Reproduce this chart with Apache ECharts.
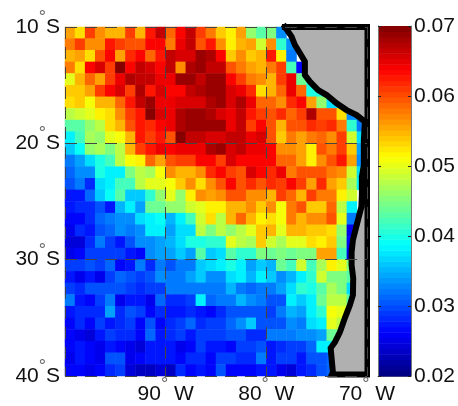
<!DOCTYPE html>
<html>
<head>
<meta charset="utf-8">
<style>
  html, body { margin: 0; padding: 0; background: #fff; }
  #chart { width: 458px; height: 406px; }
</style>
<script src="https://cdn.jsdelivr.net/npm/echarts@6/dist/echarts.min.js"></script>
</head>
<body>
<div id="chart"></div>
<script>
// cell centres, 1 degree cells from 100W to 70W
const lonCells = [-99.5,-98.5,-97.5,-96.5,-95.5,-94.5,-93.5,-92.5,-91.5,-90.5,-89.5,-88.5,-87.5,-86.5,-85.5,-84.5,-83.5,-82.5,-81.5,-80.5,-79.5,-78.5,-77.5,-76.5,-75.5,-74.5,-73.5,-72.5,-71.5,-70.5];
const latCells = [-10.5,-11.5,-12.5,-13.5,-14.5,-15.5,-16.5,-17.5,-18.5,-19.5,-20.5,-21.5,-22.5,-23.5,-24.5,-25.5,-26.5,-27.5,-28.5,-29.5,-30.5,-31.5,-32.5,-33.5,-34.5,-35.5,-36.5,-37.5,-38.5,-39.5];

// one row per latitude, west to east; a row stops where the land starts
const row00 = [.056,.053,.061,.057,.055,.055,.061,.055,.063,.067,.059,.064,.067,.061,.058,.054,.052,.056,.046,.043,.045,.033];
const row01 = [.058,.061,.057,.057,.063,.061,.060,.060,.064,.064,.058,.065,.067,.060,.063,.057,.052,.055,.056,.049,.057,.041,.033];
const row02 = [.055,.056,.053,.060,.064,.056,.062,.064,.059,.063,.067,.066,.066,.069,.068,.064,.054,.057,.054,.055,.063,.052,.032];
const row03 = [.058,.053,.064,.066,.061,.070,.064,.067,.066,.064,.067,.057,.068,.069,.067,.067,.060,.058,.056,.055,.058,.061,.042,.026];
const row04 = [.050,.055,.059,.056,.061,.065,.068,.067,.067,.065,.065,.069,.069,.067,.069,.069,.064,.061,.058,.057,.055,.061,.065,.044,.040];
const row05 = [.054,.054,.056,.061,.064,.066,.061,.068,.063,.066,.064,.064,.067,.068,.069,.069,.066,.065,.062,.053,.055,.059,.065,.059,.040,.040];
const row06 = [.053,.054,.051,.055,.055,.059,.063,.067,.069,.065,.065,.066,.066,.066,.068,.069,.066,.068,.065,.059,.059,.057,.062,.064,.056,.046,.037,.037];
const row07 = [.048,.049,.050,.052,.053,.057,.061,.063,.070,.066,.065,.068,.069,.069,.068,.066,.065,.067,.063,.061,.060,.062,.059,.061,.068,.060,.060,.053,.033,.033];
const row08 = [.043,.043,.046,.048,.053,.055,.060,.063,.062,.064,.065,.068,.069,.069,.069,.069,.065,.067,.061,.064,.060,.055,.060,.060,.062,.061,.062,.058,.041,.032];
const row09 = [.038,.042,.047,.046,.050,.051,.055,.063,.061,.063,.060,.070,.067,.067,.066,.066,.067,.067,.065,.066,.060,.054,.058,.056,.058,.059,.057,.061,.049,.037];
const row10 = [.036,.039,.046,.047,.045,.048,.055,.061,.063,.065,.064,.065,.065,.065,.068,.069,.066,.067,.065,.065,.064,.057,.057,.056,.052,.060,.058,.061,.054,.034];
const row11 = [.032,.034,.037,.040,.042,.048,.051,.052,.059,.056,.060,.061,.061,.064,.064,.061,.066,.064,.064,.064,.064,.059,.059,.056,.052,.057,.060,.063,.056,.033];
const row12 = [.031,.033,.033,.040,.038,.038,.045,.048,.047,.051,.057,.055,.055,.057,.062,.064,.061,.060,.066,.064,.062,.065,.058,.060,.060,.060,.058,.057,.049,.037];
const row13 = [.030,.032,.028,.037,.038,.042,.042,.048,.050,.050,.051,.054,.057,.053,.057,.060,.064,.060,.062,.060,.062,.061,.064,.061,.056,.062,.056,.054,.047,.038];
const row14 = [.027,.027,.031,.036,.039,.043,.036,.036,.041,.046,.050,.046,.052,.057,.056,.057,.060,.060,.057,.057,.055,.061,.059,.055,.061,.058,.058,.052,.049];
const row15 = [.027,.028,.028,.030,.027,.035,.038,.034,.044,.044,.046,.046,.049,.050,.052,.052,.055,.055,.057,.054,.057,.051,.058,.060,.054,.054,.059,.048,.038];
const row16 = [.026,.026,.028,.031,.032,.033,.033,.037,.038,.039,.035,.038,.042,.049,.053,.048,.055,.059,.055,.052,.053,.051,.058,.055,.057,.057,.060,.050,.032];
const row17 = [.025,.028,.027,.030,.031,.033,.032,.033,.038,.038,.034,.037,.037,.048,.045,.048,.046,.048,.050,.054,.055,.050,.055,.055,.054,.054,.053,.046,.025];
const row18 = [.024,.024,.028,.032,.029,.027,.030,.033,.033,.034,.035,.037,.040,.040,.041,.041,.050,.048,.047,.054,.049,.047,.050,.050,.053,.052,.054,.045,.026];
const row19 = [.025,.026,.029,.029,.029,.029,.027,.026,.033,.034,.034,.036,.034,.043,.036,.037,.043,.041,.041,.045,.044,.045,.044,.045,.045,.056,.056,.042,.025];
const row20 = [.029,.029,.030,.029,.031,.026,.027,.032,.028,.032,.030,.032,.032,.036,.037,.038,.040,.038,.034,.036,.035,.044,.042,.049,.042,.047,.052,.050,.045];
const row21 = [.027,.025,.027,.025,.029,.031,.030,.029,.030,.033,.032,.032,.034,.036,.033,.033,.037,.038,.035,.038,.036,.033,.035,.038,.041,.049,.045,.045,.043];
const row22 = [.029,.028,.030,.030,.030,.030,.029,.028,.029,.029,.032,.032,.032,.032,.032,.032,.035,.032,.031,.032,.032,.034,.037,.041,.040,.043,.047,.045,.037];
const row23 = [.032,.027,.026,.029,.032,.025,.027,.027,.025,.031,.028,.028,.029,.038,.031,.032,.032,.035,.033,.032,.030,.030,.038,.036,.038,.044,.048,.048,.043];
const row24 = [.027,.028,.028,.028,.034,.028,.030,.029,.026,.028,.027,.027,.028,.027,.026,.028,.030,.030,.030,.030,.029,.032,.035,.034,.038,.041,.051,.050];
const row25 = [.026,.028,.026,.029,.027,.028,.029,.026,.030,.026,.028,.029,.031,.028,.029,.029,.031,.033,.036,.030,.030,.030,.033,.032,.037,.038,.050,.048];
const row26 = [.026,.025,.024,.027,.029,.028,.028,.026,.031,.027,.028,.029,.027,.029,.029,.029,.030,.030,.028,.028,.032,.032,.032,.033,.033,.034,.044,.045];
const row27 = [.026,.027,.026,.025,.027,.026,.025,.024,.027,.027,.027,.025,.026,.029,.027,.027,.026,.029,.029,.030,.027,.028,.029,.029,.031,.038,.038];
const row28 = [.025,.027,.026,.025,.030,.030,.025,.026,.027,.027,.027,.026,.028,.028,.026,.029,.029,.028,.028,.032,.027,.029,.029,.027,.030,.030,.031];
const row29 = [.026,.026,.025,.026,.028,.029,.024,.023,.023,.024,.023,.028,.026,.027,.026,.030,.026,.026,.026,.027,.027,.025,.024,.027,.028,.030,.031];
const rows = [row00,row01,row02,row03,row04,row05,row06,row07,row08,row09,row10,row11,row12,row13,row14,row15,row16,row17,row18,row19,row20,row21,row22,row23,row24,row25,row26,row27,row28,row29];

// coast, north to south
const coastLon = [-78.15,-77.49,-77.16,-76.66,-76.17,-76.17,-75.67,-74.85,-74.01,-73.02,-72.03,-71.03,-70.21,-70.31,-70.31,-70.51,-70.51,-70.56,-70.9,-71.4,-71.53,-71.53,-71.37,-71.4,-71.7,-72.2,-72.69,-73.19,-73.61,-73.52,-73.39,-73.49];
const coastLat = [-10,-10.83,-11.55,-12.26,-12.98,-14.13,-14.7,-15.42,-15.85,-16.56,-17.14,-17.57,-18.14,-19.72,-21.87,-22.9,-24.45,-25.48,-26.6,-28.31,-29.35,-30.46,-31.58,-33.04,-33.9,-35.02,-36.23,-37.09,-37.6,-38.46,-39.66,-39.87];
const frameLon = [-69.95,-69.95];
const frameLat = [-39.87,-10];

const lonTicks = [-90, -80, -70];
const latTicks = [-10, -20, -30, -40];
const colorTicks = [0.02, 0.03, 0.04, 0.05, 0.06, 0.07];

const font = "Liberation Sans";
const ink = "#111";

// matlab style jet, 64 steps
const clamp01 = (v) => Math.max(0, Math.min(1, v));
const jetLevel = (i) => {
  const t = (i + 0.5) / 64;
  const ch = (c) => Math.round(clamp01(1.5 - Math.abs(4 * t - c)) * 255);
  return `rgb(${ch(3)},${ch(2)},${ch(1)})`;
};
const jetColors = Array.from({ length: 64 }, (_, i) => jetLevel(i));

const cells = [];
rows.forEach((row, r) => {
  row.forEach((v, c) => cells.push([c, r, v]));
});

const coast = coastLon.map((lon, i) => [lon, coastLat[i]]);
const frame = coast.concat(frameLon.map((lon, i) => [lon, frameLat[i]]), [coast[0]]);

// degree ring sits well above the digits, hence the bottom padding
const richLabel = {
  n: { fontFamily: font, fontSize: 21, color: ink },
  d: { fontFamily: font, fontSize: 18, color: "#666", padding: [0, 0, 18, 0] }
};

const chart = echarts.init(document.getElementById("chart"));

chart.setOption({
  animation: false,
  backgroundColor: "#fff",
  grid: [
    { left: 65, top: 27, width: 302, height: 349 },
    { left: 378, top: 26, width: 33, height: 350 }
  ],
  xAxis: [
    { type: "category", gridIndex: 0, data: lonCells, show: false },
    {
      type: "value",
      gridIndex: 0,
      position: "bottom",
      min: -100,
      max: -70,
      interval: 10,
      z: 10,
      axisLine: { show: false, onZero: false },
      axisTick: { show: false },
      axisLabel: {
        margin: 0,
        showMinLabel: false,
        hideOverlap: false,
        rich: richLabel,
        formatter: (v) => (lonTicks.includes(v) ? `{n|${-v}}{d|°}{n| W}` : "")
      },
      splitLine: {
        show: true,
        lineStyle: { color: "#444", width: 1, type: [12, 8] }
      }
    },
    {
      type: "value",
      gridIndex: 1,
      min: 0,
      max: 1,
      axisLine: { show: true, onZero: false, lineStyle: { color: "#777" } },
      axisTick: { show: false },
      axisLabel: { show: false },
      splitLine: { show: false }
    }
  ],
  yAxis: [
    { type: "category", gridIndex: 0, data: latCells, inverse: true, show: false },
    {
      type: "value",
      gridIndex: 0,
      position: "left",
      min: -40,
      max: -10,
      interval: 10,
      z: 10,
      axisLine: { show: false, onZero: false },
      axisTick: { show: false },
      axisLabel: {
        margin: 5,
        rich: richLabel,
        formatter: (v) => (latTicks.includes(v) ? `{n|${-v}}{d|°}{n|S}` : "")
      },
      splitLine: {
        show: true,
        lineStyle: { color: "#444", width: 1, type: [12, 8] }
      }
    },
    {
      type: "value",
      gridIndex: 1,
      position: "right",
      min: 0.02,
      max: 0.07,
      interval: 0.01,
      z: 10,
      axisLine: { show: true, onZero: false, lineStyle: { color: "#777" } },
      axisTick: { show: true, inside: true, length: 3, lineStyle: { color: "#222" } },
      axisLabel: {
        margin: 3,
        fontFamily: font,
        fontSize: 21,
        color: ink,
        formatter: (v) => colorTicks.find((t) => Math.abs(t - v) < 1e-6).toFixed(2)
      },
      splitLine: { show: false }
    },
    {
      type: "value",
      gridIndex: 1,
      position: "left",
      min: 0.02,
      max: 0.07,
      interval: 0.01,
      z: 10,
      axisLine: { show: true, onZero: false, lineStyle: { color: "#777" } },
      axisTick: { show: true, inside: true, length: 3, lineStyle: { color: "#222" } },
      axisLabel: { show: false },
      splitLine: { show: false }
    }
  ],
  visualMap: {
    show: false,
    seriesIndex: 0,
    dimension: 2,
    min: 0.02,
    max: 0.07,
    inRange: { color: jetColors }
  },
  series: [
    {
      type: "heatmap",
      xAxisIndex: 0,
      yAxisIndex: 0,
      data: cells,
      itemStyle: { borderWidth: 0 },
      z: 2
    },
    {
      // land
      type: "custom",
      xAxisIndex: 1,
      yAxisIndex: 1,
      clip: false,
      z: 3,
      data: [0],
      renderItem: (params, api) => ({
        type: "polygon",
        shape: { points: frame.map((p) => api.coord(p)) },
        style: { fill: "#b0b0b0" }
      })
    },
    {
      type: "line",
      xAxisIndex: 1,
      yAxisIndex: 1,
      data: frame,
      showSymbol: false,
      clip: false,
      silent: true,
      lineStyle: { color: "#000", width: 6, join: "miter", cap: "square" },
      z: 4
    },
    {
      // colorbar
      type: "custom",
      xAxisIndex: 2,
      yAxisIndex: 2,
      z: 2,
      data: jetColors.map((c, i) => i),
      renderItem: (params, api) => {
        const i = api.value(0);
        const lo = api.coord([0, 0.02 + (0.05 * i) / 64]);
        const hi = api.coord([1, 0.02 + (0.05 * (i + 1)) / 64]);
        return {
          type: "rect",
          shape: { x: lo[0], y: hi[1], width: hi[0] - lo[0], height: lo[1] - hi[1] + 0.5 },
          style: { fill: jetColors[i] }
        };
      }
    }
  ]
});
</script>
</body>
</html>
